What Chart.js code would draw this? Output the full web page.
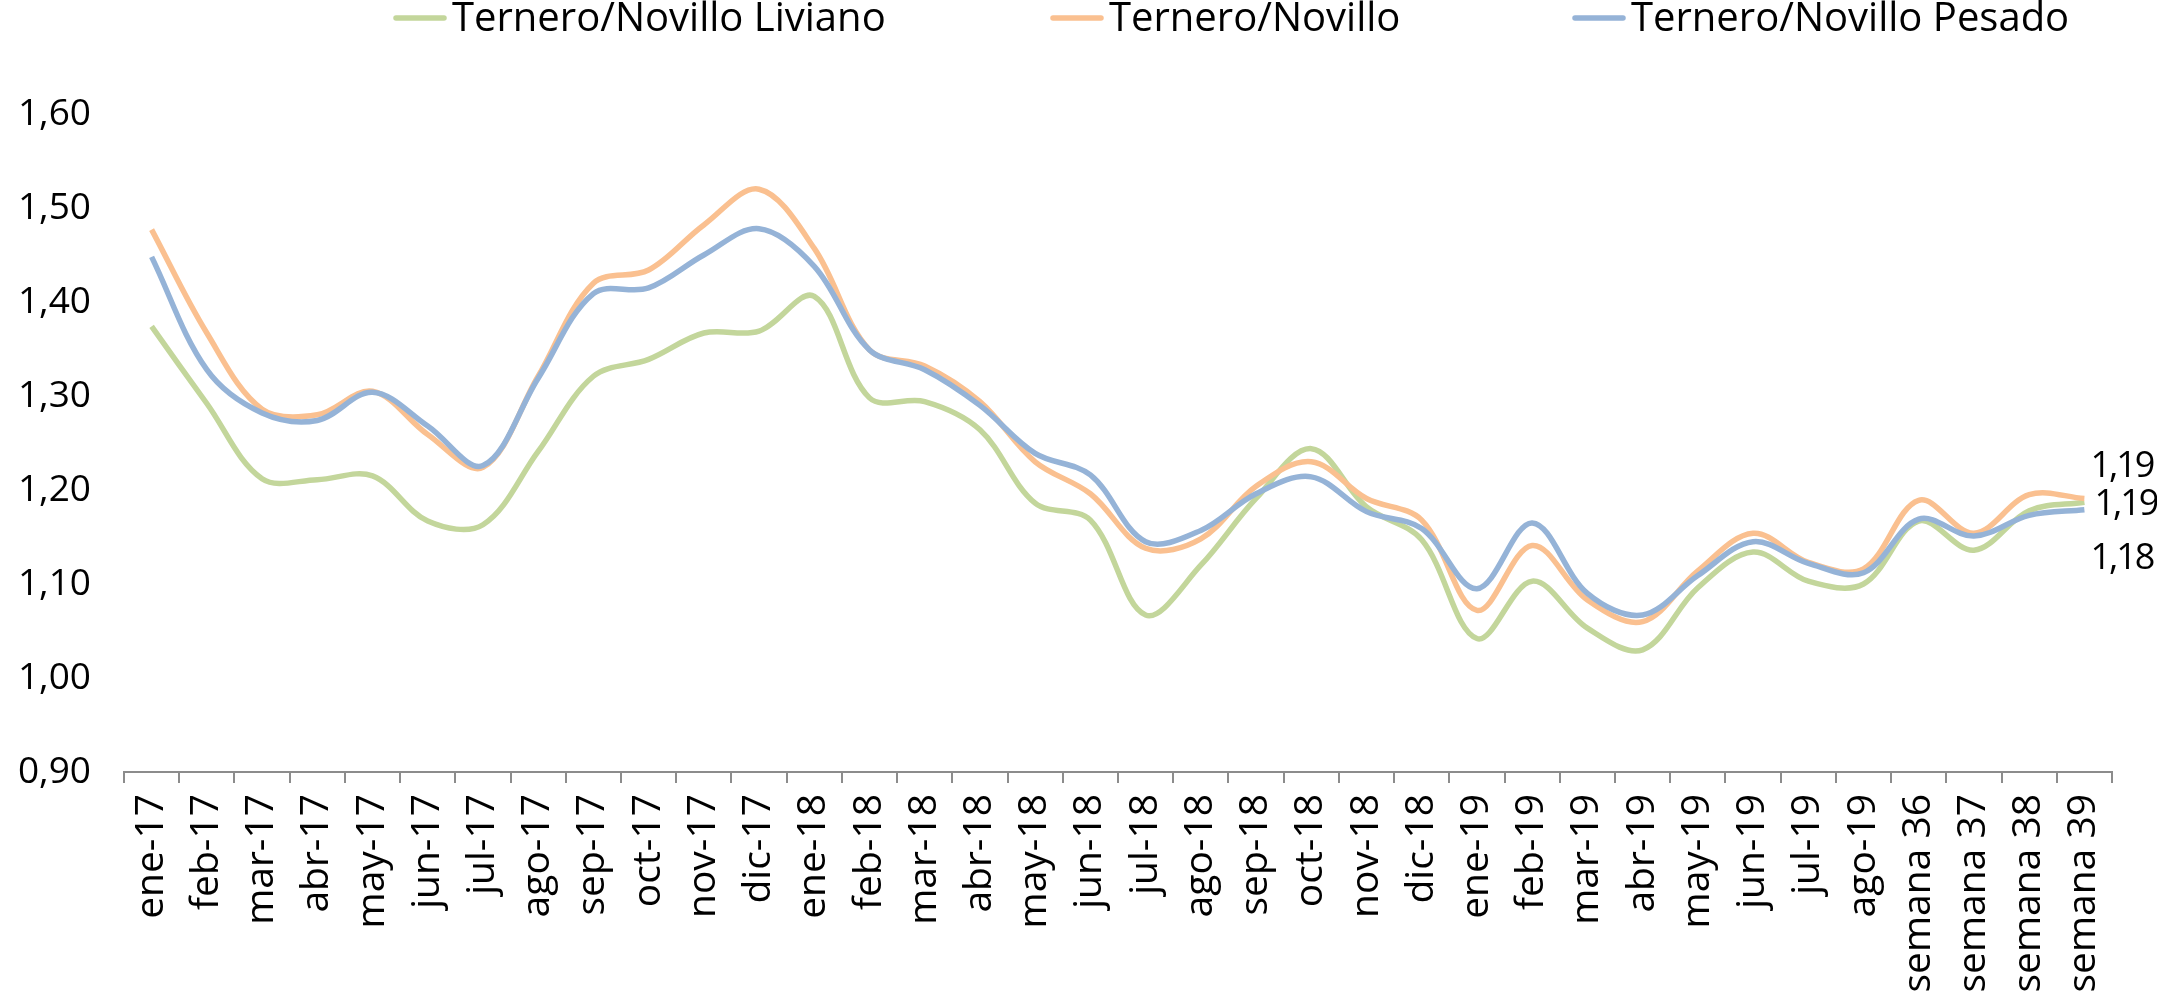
<!DOCTYPE html>
<html>
<head>
<meta charset="utf-8">
<script src="https://cdn.jsdelivr.net/npm/chart.js@4.4.0/dist/chart.umd.min.js"></script>
<style>
  html, body { margin: 0; padding: 0; background: #fff; }
  #wrap { width: 2157px; height: 997px; position: relative; }
</style>
</head>
<body>
<div id="wrap"><canvas id="precios"></canvas></div>
<script>
// Categorías del eje X
var meses = ["ene-17", "feb-17", "mar-17", "abr-17", "may-17", "jun-17", "jul-17", "ago-17",
             "sep-17", "oct-17", "nov-17", "dic-17", "ene-18", "feb-18", "mar-18", "abr-18",
             "may-18", "jun-18", "jul-18", "ago-18", "sep-18", "oct-18", "nov-18", "dic-18",
             "ene-19", "feb-19", "mar-19", "abr-19", "may-19", "jun-19", "jul-19", "ago-19",
             "semana 36", "semana 37", "semana 38", "semana 39"];

// Ternero/Novillo Liviano
var liviano = [1.374, 1.292, 1.212, 1.211, 1.215, 1.167, 1.163, 1.241, 1.321, 1.339, 1.367, 1.369,
               1.406, 1.298, 1.294, 1.264, 1.186, 1.168, 1.067, 1.120, 1.191, 1.244, 1.182, 1.147,
               1.042, 1.103, 1.053, 1.030, 1.096, 1.134, 1.103, 1.100, 1.167, 1.136, 1.178, 1.187];

// Ternero/Novillo
var ternero = [1.477, 1.367, 1.286, 1.280, 1.305, 1.259, 1.224, 1.321, 1.420, 1.434, 1.482, 1.520,
               1.457, 1.349, 1.332, 1.294, 1.230, 1.196, 1.138, 1.148, 1.204, 1.230, 1.191, 1.168,
               1.072, 1.141, 1.083, 1.060, 1.114, 1.154, 1.123, 1.116, 1.189, 1.154, 1.195, 1.191];

// Ternero/Novillo Pesado
var pesado = [1.448, 1.328, 1.282, 1.274, 1.304, 1.268, 1.226, 1.319, 1.409, 1.415, 1.450, 1.478,
              1.438, 1.349, 1.328, 1.290, 1.239, 1.216, 1.145, 1.157, 1.196, 1.214, 1.177, 1.159,
              1.095, 1.165, 1.090, 1.067, 1.109, 1.145, 1.122, 1.112, 1.169, 1.151, 1.173, 1.179];

var series = ["Ternero/Novillo Liviano", "Ternero/Novillo", "Ternero/Novillo Pesado"];
var colores = ["#C3D69B", "#FAC090", "#95B3D7"];

var fuente = '"Open Sans", "Noto Sans", sans-serif';

// formato con coma decimal
function coma(v) {
    return v.toFixed(2).replace(".", ",");
}

// leyenda con trazo de línea (posición de cada elemento)
var legendX = [393, 1050, 1572];
var legendPlugin = {
    id: "leyendaLinea",
    afterDraw: function(chart) {
        var ctx = chart.ctx;
        ctx.save();
        ctx.font = "40px " + fuente;
        ctx.textBaseline = "middle";
        ctx.textAlign = "left";
        ctx.lineWidth = 5.5;
        ctx.lineCap = "round";
        chart.data.datasets.forEach(function(ds, i) {
            var x = legendX[i];
            ctx.strokeStyle = ds.borderColor;
            ctx.beginPath();
            ctx.moveTo(x + 3, 18);
            ctx.lineTo(x + 51, 18);
            ctx.stroke();
            ctx.fillStyle = "#000";
            ctx.fillText(ds.label, x + 59, 20);
        });
        ctx.restore();
    }
};

// etiqueta del último valor de cada serie
var offsetEtiqueta = [[10, 3], [6, -32], [6, 49]];
var endLabelPlugin = {
    id: "ultimoValor",
    afterDatasetsDraw: function(chart) {
        var ctx = chart.ctx;
        ctx.save();
        ctx.font = "36px " + fuente;
        ctx.letterSpacing = "-2px";
        ctx.textBaseline = "middle";
        ctx.textAlign = "left";
        ctx.fillStyle = "#000";
        chart.data.datasets.forEach(function(ds, i) {
            var meta = chart.getDatasetMeta(i);
            var n = ds.data.length - 1;
            var pt = meta.data[n];
            ctx.fillText(coma(ds.data[n]), pt.x + offsetEtiqueta[i][0], pt.y + offsetEtiqueta[i][1]);
        });
        ctx.restore();
    }
};

var datos = [liviano, ternero, pesado];
var datasets = series.map(function(nombre, i) {
    return {
        label: nombre,
        data: datos[i],
        borderColor: colores[i],
        backgroundColor: colores[i],
        borderWidth: 5.5,
        pointRadius: 0,
        tension: 0.35,
        fill: false,
        order: 3 - i
    };
});

var ctx = document.getElementById("precios").getContext("2d");
new Chart(ctx, {
    type: "line",
    data: {
        labels: meses,
        datasets: datasets
    },
    options: {
        responsive: true,
        maintainAspectRatio: false,
        animation: false,
        layout: {
            padding: { left: 0, right: 45, top: 114, bottom: 0 }
        },
        plugins: {
            legend: { display: false },
            tooltip: { enabled: false }
        },
        scales: {
            x: {
                offset: true,
                grid: {
                    offset: true,
                    drawOnChartArea: false,
                    drawTicks: true,
                    tickLength: 11,
                    color: "#8C8C8C",
                    lineWidth: 2
                },
                border: { display: true, color: "#8C8C8C", width: 2 },
                ticks: {
                    autoSkip: false,
                    minRotation: 90,
                    maxRotation: 90,
                    padding: 11,
                    color: "#000",
                    font: { family: fuente, size: 39 }
                },
                afterFit: function(scale) { scale.height = 225; }
            },
            y: {
                min: 0.9,
                max: 1.6,
                grid: { display: false, drawTicks: false },
                border: { display: false },
                ticks: {
                    stepSize: 0.1,
                    padding: 33,
                    color: "#000",
                    font: { family: fuente, size: 37 },
                    callback: function(v) { return coma(v); }
                },
                afterFit: function(scale) { scale.width = 124; }
            }
        }
    },
    plugins: [legendPlugin, endLabelPlugin]
});
</script>
</body>
</html>
